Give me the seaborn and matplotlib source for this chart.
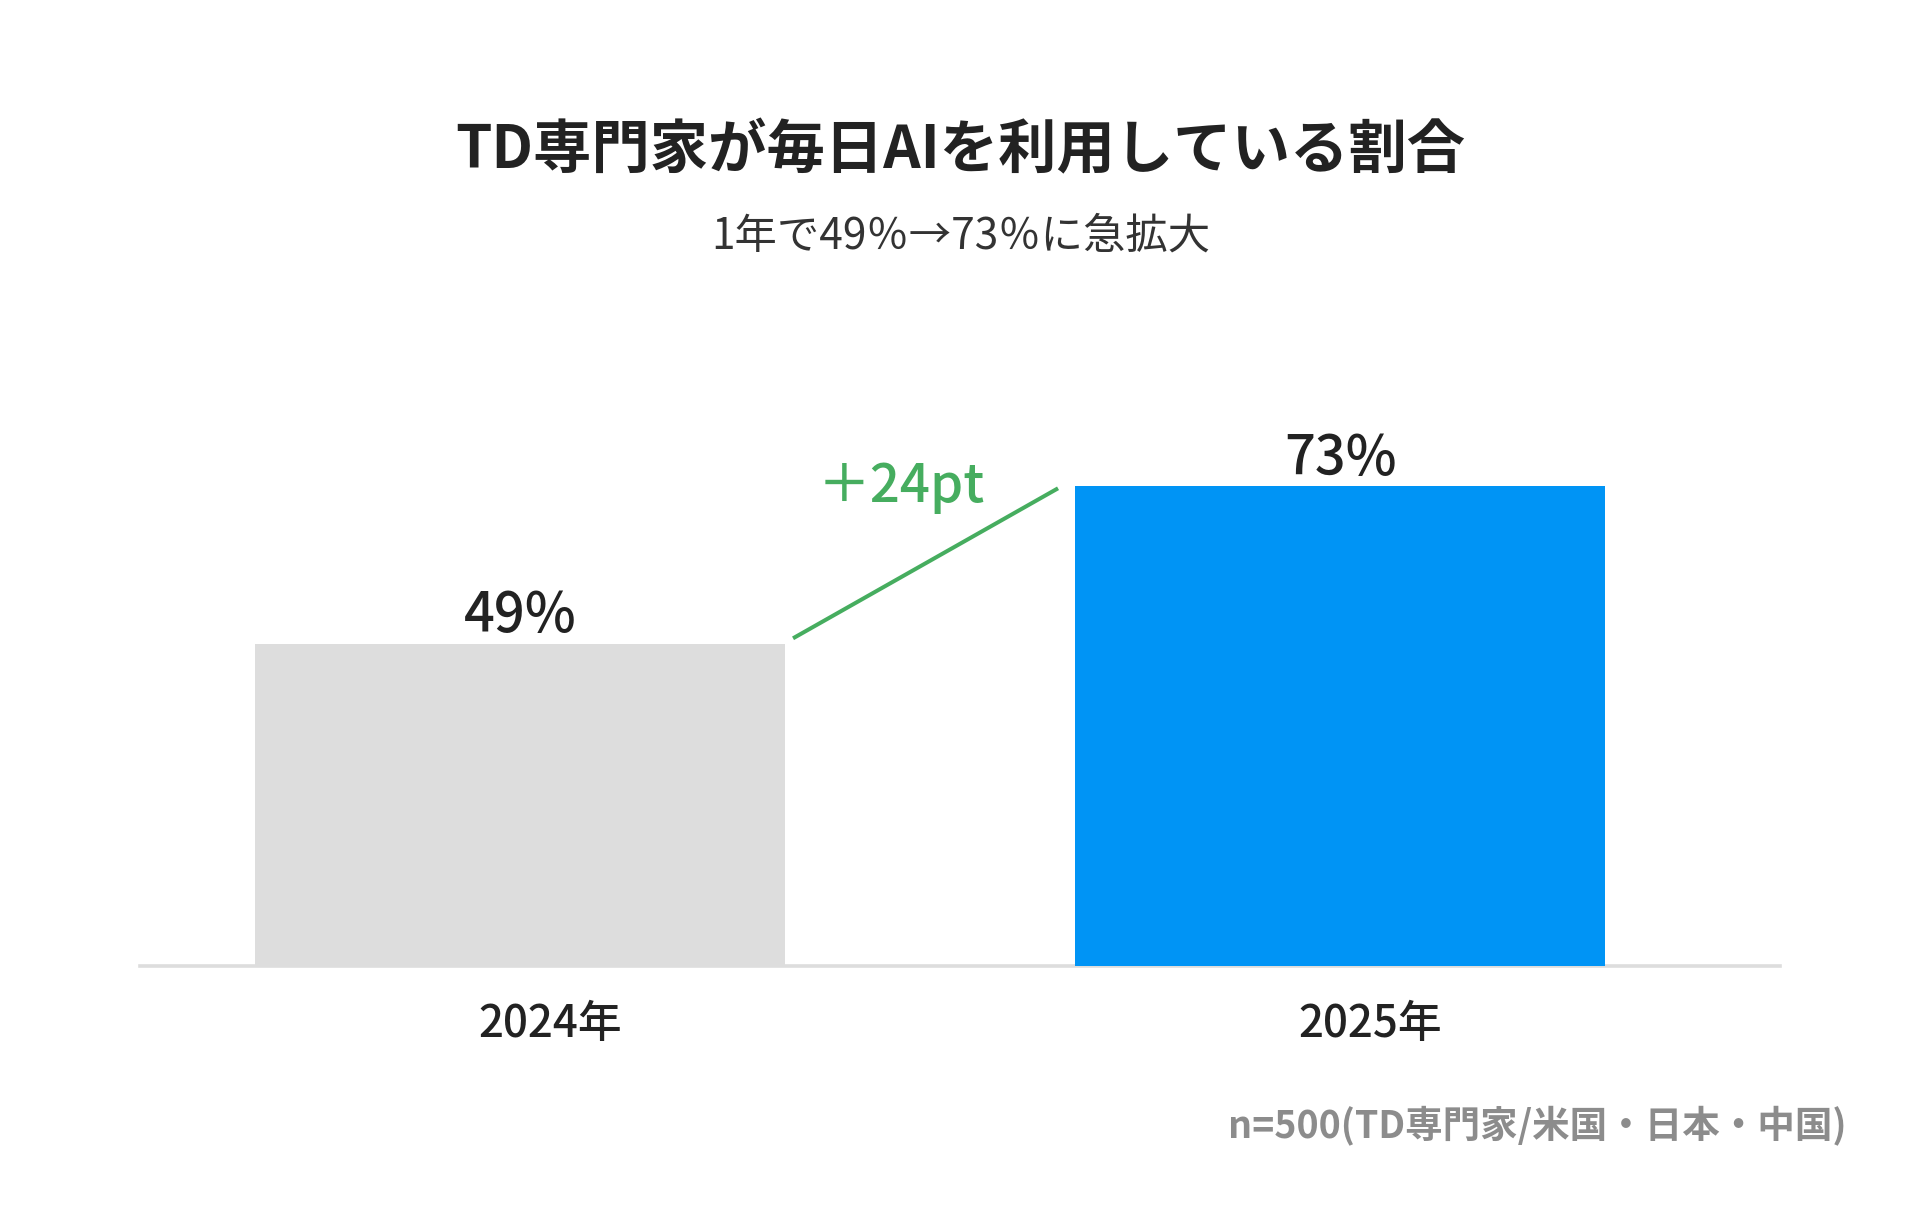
import matplotlib
matplotlib.use("Agg")
import matplotlib.pyplot as plt
import seaborn as sns
import pandas as pd
from matplotlib.transforms import ScaledTranslation

# ---- data ----
years = ["2024年", "2025年"]
shares = [49, 73]
value_labels = ["49%", "73%"]
bar_colors = ["#DDDDDD", "#0094F5"]
title = "TD専門家が毎日AIを利用している割合"
subtitle = "1年で49％→73％に急拡大"
delta_label = "＋24pt"
note = "n=500(TD専門家/米国・日本・中国)"

sns.set_theme(style="white")
plt.rcParams["font.family"] = ["Noto Sans CJK JP", "DejaVu Sans"]

W, H = 1920, 1217
fig = plt.figure(figsize=(W / 100, H / 100), dpi=100)
fig.patch.set_facecolor("white")
ax = fig.add_axes([140 / W, 1 - 966 / H, 1640 / W, 658 / H])
ax.set_facecolor("white")

df = pd.DataFrame({"year": years, "share": shares})
bar_w = 0.646
sns.barplot(data=df, x="year", y="share", hue="year", palette=bar_colors,
            width=bar_w, saturation=1, legend=False, ax=ax, errorbar=None)
for p in ax.patches:
    p.set_edgecolor("none")
    p.set_zorder(2)

ax.set_xlim(-0.463, 1.536)
ax.set_ylim(0, 100)
ax.set_xlabel("")
ax.set_ylabel("")
ax.set_yticks([])
for s in ["left", "right", "top"]:
    ax.spines[s].set_visible(False)
ax.spines["bottom"].set_color("#DDDDDD")
ax.spines["bottom"].set_linewidth(2.6)
ax.spines["bottom"].set_zorder(1)

# value labels
for i, (v, lab) in enumerate(zip(shares, value_labels)):
    ax.annotate(lab, (i, v), xytext=(0, 8), textcoords="offset points",
                ha="center", va="baseline", fontsize=39, color="#222222",
                fontweight="medium")

# connecting line
x0 = 0 + bar_w / 2 + 0.01
y0 = shares[0] + 0.8
x1 = 1 - bar_w / 2 - 0.021
y1 = shares[1] - 0.4
ax.plot([x0, x1], [y0, y1], color="#46AD5F", lw=2.9, solid_capstyle="butt", zorder=3)
ax.annotate(delta_label, ((x0 + x1) / 2, (y0 + y1) / 2), xytext=(-17.6, 43.9),
            textcoords="offset points", ha="center", va="baseline",
            fontsize=38, color="#46AD5F", fontweight="medium")

# x tick labels
ax.set_xticks([0, 1])
ax.set_xticklabels(years)
ax.tick_params(axis="x", length=0, pad=51, labelsize=31.5, labelcolor="#222222")
for lab in ax.get_xticklabels():
    lab.set_va("baseline")
    lab.set_fontweight("medium")
    lab.set_transform(lab.get_transform() + ScaledTranslation(30 / 100, 0, fig.dpi_scale_trans))

# titles and note
fig.text(960 / W, 1 - 168 / H, title, ha="center", va="baseline",
         fontsize=42, fontweight="bold", color="#222222")
fig.text(961 / W, 1 - 249 / H, subtitle, ha="center", va="baseline",
         fontsize=30.5, color="#333333")
fig.text(1847 / W, 1 - 1137 / H, note, ha="right", va="baseline",
         fontsize=27, fontweight="bold", color="#8C8C8C")

fig.savefig("out.png", dpi=100, facecolor="white")
